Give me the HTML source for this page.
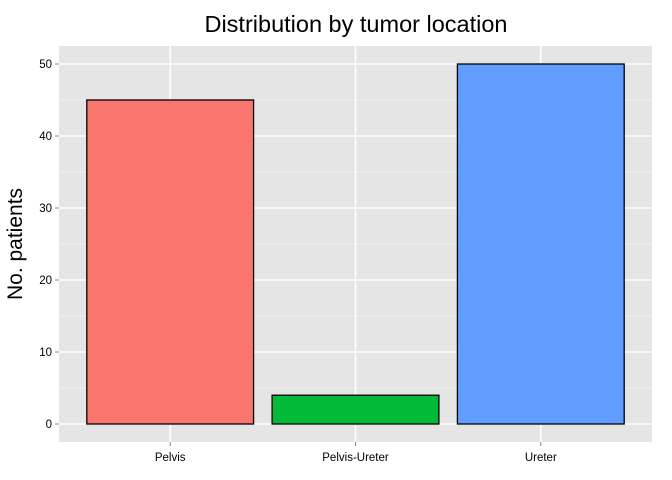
<!DOCTYPE html>
<html><head><meta charset="utf-8"><style>
body{margin:0;background:#fff;font-family:"Liberation Sans",sans-serif;}
svg{display:block}
</style></head><body>
<svg id="c" width="672" height="480">
<rect x="0" y="0" width="672" height="480" fill="#fff"/>
<text x="356" y="32" text-anchor="middle" font-size="23.5" fill="#000">Distribution by tumor location</text>
<text transform="translate(22,244) rotate(-90)" text-anchor="middle" font-size="21" fill="#000">No. patients</text>
<g id="g"></g>
</svg>
<script>
const categories=["Pelvis","Pelvis-Ureter","Ureter"];
const values=[45,4,50];
const colors=["#F8766D","#00BA38","#619CFF"];
const yTicks=[0,10,20,30,40,50];
const px0=59,px1=652,py0=46,py1=442;
const yMin=-2.5,yMax=52.5;
const y=v=>py1-(v-yMin)/(yMax-yMin)*(py1-py0);
const unit=(px1-px0)/(categories.length+0.2);
const x=i=>px0+unit*(i+0.6);
const g=document.getElementById('g');
const NS="http://www.w3.org/2000/svg";
function mk(t,a){const e=document.createElementNS(NS,t);for(const k in a)e.setAttribute(k,a[k]);g.appendChild(e);return e;}
const bg=mk('rect',{x:px0,y:py0,width:px1-px0,height:py1-py0,fill:'#E5E5E5'});


for(let i=0;i<yTicks.length-1;i++){const m=(yTicks[i]+yTicks[i+1])/2;const l=mk('line',{x1:px0,x2:px1,y1:y(m),y2:y(m),stroke:'#F2F2F2','stroke-width':0.8});

}
yTicks.forEach(t=>{const l=mk('line',{x1:px0,x2:px1,y1:y(t),y2:y(t),stroke:'#fff','stroke-width':1.5});


const tl=mk('line',{x1:px0-4,x2:px0,y1:y(t),y2:y(t),stroke:'#7f7f7f'});


const tx=mk('text',{x:px0-7,y:y(t)+4,'text-anchor':'end','font-size':11.5,fill:'#000'});tx.textContent=t;

});
categories.forEach((c,i)=>{const l=mk('line',{x1:x(i),x2:x(i),y1:py0,y2:py1,stroke:'#fff','stroke-width':1.5});

});
categories.forEach((c,i)=>{const w=unit*0.9;
const b=mk('rect',{x:x(i)-w/2,y:y(values[i]),width:w,height:y(0)-y(values[i]),fill:colors[i],stroke:'#000','stroke-width':1.3});


const tl=mk('line',{x1:x(i),x2:x(i),y1:py1,y2:py1+4,stroke:'#7f7f7f'});


const tx=mk('text',{x:x(i),y:py1+19,'text-anchor':'middle','font-size':11.5,fill:'#000'});tx.textContent=c;

});
</script>
</body></html>
